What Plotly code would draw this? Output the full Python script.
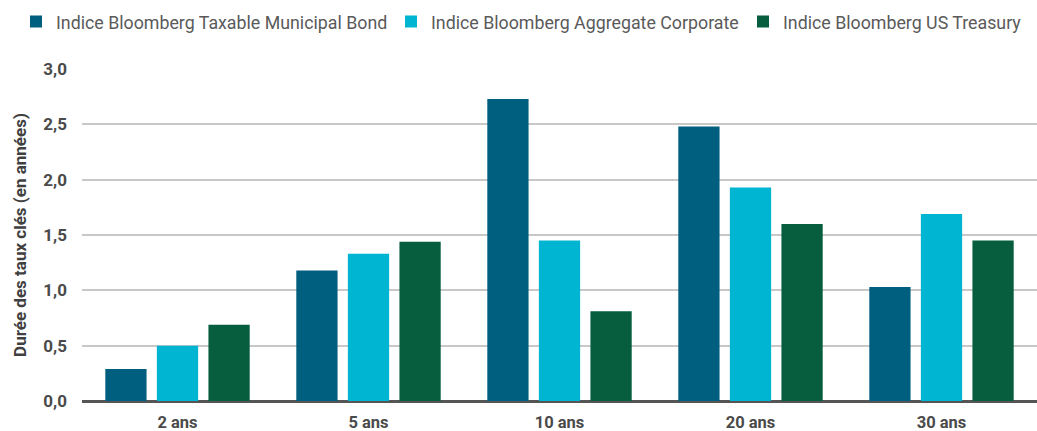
import plotly.graph_objects as go

categories = ["2 ans", "5 ans", "10 ans", "20 ans", "30 ans"]
series_names = [
    "Indice Bloomberg Taxable Municipal Bond",
    "Indice Bloomberg Aggregate Corporate",
    "Indice Bloomberg US Treasury",
]
taxable_muni = [0.29, 1.18, 2.73, 2.48, 1.03]
agg_corporate = [0.50, 1.33, 1.45, 1.93, 1.69]
us_treasury = [0.69, 1.44, 0.81, 1.60, 1.45]
y_ticks = [0.0, 0.5, 1.0, 1.5, 2.0, 2.5, 3.0]
y_tick_labels = ["0,0", "0,5", "1,0", "1,5", "2,0", "2,5", "3,0"]
y_title = "Durée des taux clés (en années)"

colors = ["#005e7f", "#00b5d2", "#065e3e"]
legend_ids = ["legend", "legend2", "legend3"]
legend_left_px = [16, 391, 743]

fig = go.Figure()
for name, vals, c, lid in zip(series_names, [taxable_muni, agg_corporate, us_treasury], colors, legend_ids):
    fig.add_trace(go.Bar(x=categories, y=vals, name=name, legend=lid,
                         marker=dict(color=c, line=dict(width=0))))

W, H = 1037, 431
legend_common = dict(orientation="h", xref="container", yref="container",
                     xanchor="left", yanchor="middle", y=1 - 22 / H,
                     font=dict(size=17.8, color="#5a5a5a"), itemwidth=30,
                     bgcolor="rgba(0,0,0,0)")
layout_legends = {lid: dict(legend_common, x=px / W) for lid, px in zip(legend_ids, legend_left_px)}

fig.update_layout(
    width=W, height=H,
    margin=dict(l=82, r=0, t=69, b=30, autoexpand=False),
    paper_bgcolor="white", plot_bgcolor="white",
    barmode="group", bargap=0.19, bargroupgap=0.2,
    font=dict(family="Roboto", color="#404040"),
    showlegend=True,
    **layout_legends,
)
fig.update_yaxes(range=[0, 3.0], tickvals=y_ticks, ticktext=y_tick_labels,
                 showgrid=True, gridcolor="#c8c8c8", gridwidth=1.5,
                 zeroline=True, zerolinecolor="#555555", zerolinewidth=3,
                 tickfont=dict(size=17, color="#4a4a4a", family="Roboto", weight="bold"),
                 ticklabelstandoff=14,
                 title=dict(text=y_title, font=dict(size=17, color="#404040", family="Roboto", weight="bold"), standoff=12),
                 showline=False)
fig.update_xaxes(tickfont=dict(size=16.5, color="#4a4a4a", family="Roboto", weight="bold"),
                 ticks="outside", ticklen=6, tickcolor="rgba(0,0,0,0)", showline=False)

fig.write_html("out.html")
